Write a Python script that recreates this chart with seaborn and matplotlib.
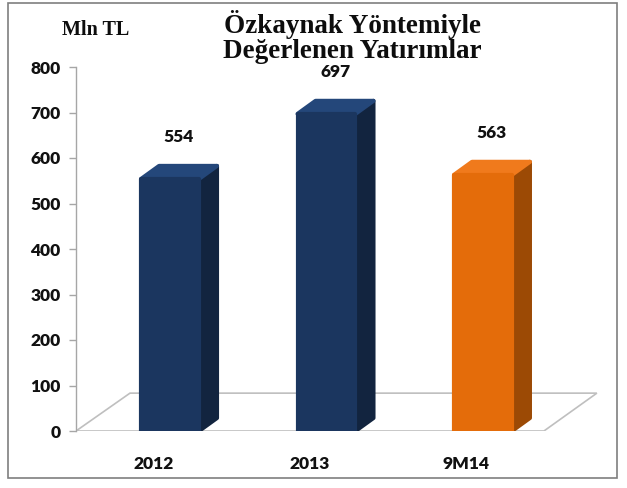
import matplotlib
matplotlib.use('Agg')
import matplotlib.pyplot as plt
import matplotlib.transforms as mtransforms
from matplotlib.patches import Polygon, Rectangle
import pandas as pd
import seaborn as sns

# Veriler
donemler = ['2012', '2013', '9M14']
degerler = [554, 697, 563]
renkler = ['#1B365F', '#1B365F', '#E46C0A']
yan_renkler = ['#12243F', '#12243F', '#9C4A05']
ust_renkler = ['#24477A', '#24477A', '#F07A1C']
y_ticks = [0, 100, 200, 300, 400, 500, 600, 700, 800]

df = pd.DataFrame({'donem': donemler, 'deger': degerler})

sns.set_theme(style="white")
plt.rcParams['font.family'] = ['Lato', 'DejaVu Sans']

fig = plt.figure(figsize=(6.27, 4.88), dpi=100)
ax = fig.add_axes([76 / 627, 57 / 488, 524 / 627, 364 / 488])

sns.barplot(data=df, x='donem', y='deger', hue='donem', palette=renkler,
            width=0.37, legend=False, ax=ax, saturation=1, zorder=3)
cubuklar = list(ax.patches)

ax.set_xlim(-0.601, 2.748)
ax.set_ylim(0, 800)

# Arka plan zemini (3B görünüm için)
zemin = Polygon([(0, 0), (0.893, 0), (0.994, 0.104), (0.103, 0.104)],
                closed=True, fill=False, edgecolor='#BFBFBF', lw=1.2,
                transform=ax.transAxes, zorder=1)
ax.add_patch(zemin)

# 3B yan ve üst yüzler
dx = 18 / 156.5
dy = 13 / 0.455
for bar, yan, ust in zip(cubuklar, yan_renkler, ust_renkler):
    x0 = bar.get_x()
    w = bar.get_width()
    h = bar.get_height()
    bar.set_edgecolor(bar.get_facecolor())
    bar.set_linewidth(3)
    bar.set_joinstyle('round')
    ax.add_patch(Polygon([(x0 + w, 0), (x0 + w + dx, dy), (x0 + w + dx, h + dy), (x0 + w, h)],
                         closed=True, facecolor=yan, edgecolor=yan, lw=3,
                         joinstyle='round', zorder=2.5))
    ax.add_patch(Polygon([(x0, h), (x0 + dx, h + dy), (x0 + w + dx, h + dy), (x0 + w, h)],
                         closed=True, facecolor=ust, edgecolor=ust, lw=3,
                         joinstyle='round', zorder=2.6))
    ax.annotate(f'{h:.0f}', (x0 + w / 2 + dx / 2, h + dy), xytext=(0, 15),
                textcoords='offset points', ha='center', va='bottom',
                fontsize=12.5, weight='heavy', color='#111111')

ax.set_yticks(y_ticks)
ax.set_xlabel('')
ax.set_ylabel('')
for s in ['top', 'right', 'bottom']:
    ax.spines[s].set_visible(False)
ax.spines['left'].set_color('#A6A6A6')
ax.spines['left'].set_linewidth(1)
ax.tick_params(axis='y', which='major', left=True, length=5, width=1, color='#A6A6A6',
               labelsize=12.5, pad=6)
ax.tick_params(axis='x', bottom=False, labelsize=12.5, pad=12)
for lab in ax.get_yticklabels() + ax.get_xticklabels():
    lab.set_fontweight('heavy')
    lab.set_color('#111111')
kaydir = mtransforms.ScaledTranslation(-12 / 72, 0, fig.dpi_scale_trans)
for lab in ax.get_xticklabels():
    lab.set_transform(lab.get_transform() + kaydir)

fig.text(352 / 627, 1 - 10 / 488, 'Özkaynak Yöntemiyle\nDeğerlenen Yatırımlar', ha='center', va='top',
         fontsize=19.5, fontweight='bold', family='Liberation Serif', linespacing=1.0,
         color='#0d0d0d')
fig.text(96 / 627, 1 - 30 / 488, 'Mln TL', ha='center', va='center',
         fontsize=14.5, fontweight='bold', family='Liberation Serif', color='#0d0d0d')

# Çerçeve
fig.patches.append(Rectangle((8 / 627, 10 / 488), 609 / 627, 475 / 488, fill=False,
                             edgecolor='#7F7F7F', lw=1.2, transform=fig.transFigure))

fig.savefig('out.png', dpi=100)
